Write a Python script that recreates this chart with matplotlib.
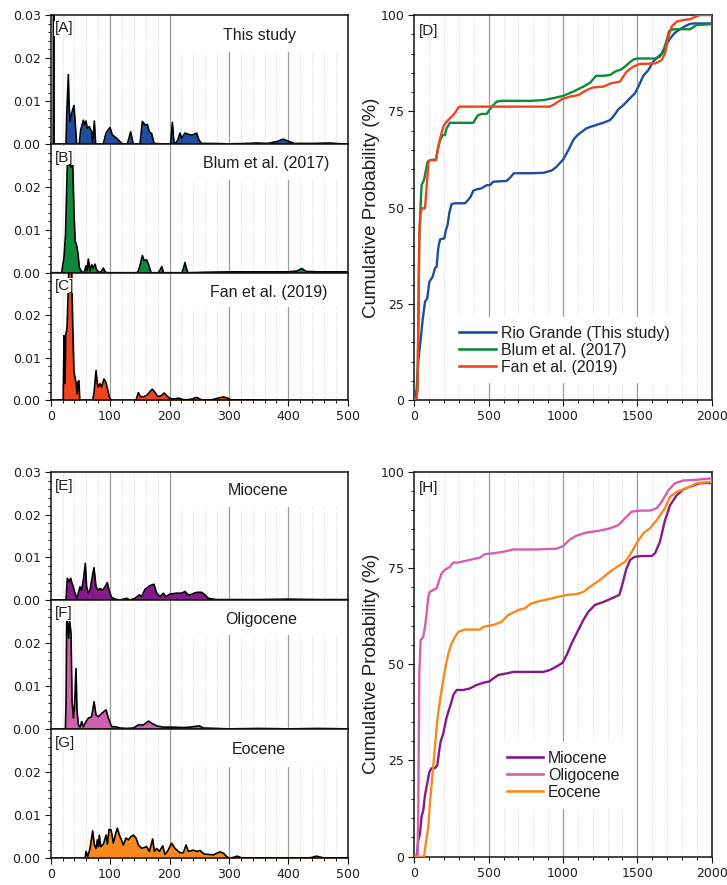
import matplotlib
matplotlib.use("Agg")
import matplotlib.pyplot as plt
from matplotlib.patches import Rectangle
from matplotlib.lines import Line2D
from matplotlib.ticker import MultipleLocator, FixedLocator, FormatStrFormatter

# ---------------- detrital zircon age spectra (Ma, probability density) ----------------
this_study_age = [0, 4.3, 4.9, 5.5, 8, 24, 25.8, 27, 29.7, 31, 32.5, 35, 37.6, 39.2, 41.5, 43.7,
                  48.2, 50.5, 55, 57, 59.4, 61.7, 65, 69, 70.7, 73.5, 75.7, 88.6, 93, 99.8, 103.7,
                  111, 119.5, 129, 134.6, 139, 150.3, 154.3, 158.8, 162.7, 166, 170, 174, 200, 202,
                  204.8, 207.6, 211, 214, 217.7, 220.5, 226, 234.5, 240, 245.7, 249.6, 254, 270,
                  300, 330, 347, 365, 380, 391.7, 400, 410, 440, 470, 490, 500]
this_study_pdf = [0, 0, 0.045, 0, 0, 0, 0.0002, 0.007, 0.0162, 0.009, 0.0053, 0.0070, 0.0083, 0.009,
                  0.0045, 0, 0.0002, 0.0033, 0.0056, 0.0045, 0.0054, 0.0037, 0.0041, 0.0029, 0.0003,
                  0.0054, 0, 0.0001, 0.0026, 0.0039, 0.0022, 0.0014, 0.0002, 0, 0.0029, 0, 0,
                  0.0053, 0.0045, 0.0046, 0.0029, 0.0025, 0.0002, 0, 0.0002, 0.0051, 0.0002,
                  0.0004, 0.0010, 0.0026, 0.0014, 0.0026, 0.0022, 0.0022, 0.0026, 0.0010, 0.0002,
                  0.0002, 0.0001, 0.0002, 0.0003, 0.0002, 0.0006, 0.0012, 0.0007, 0.0002, 0.0002,
                  0.0003, 0.0001, 0.0001]

blum_age = [0, 18.5, 22.4, 25, 27, 28, 31, 33, 35, 37, 39.2, 41, 43.7, 46, 48.2, 51, 55, 57, 59.4,
            61, 63.4, 66, 69, 71.5, 74.6, 77, 81, 85, 88.6, 91, 94, 145, 147.5, 151, 154.3, 157.6,
            161.6, 165, 169, 181, 184, 187, 190, 221, 223.5, 226, 228.5, 231, 260, 300, 350, 400,
            415, 422.6, 430, 450, 500]
blum_pdf = [0, 0, 0.0036, 0.009, 0.020, 0.0252, 0.0254, 0.0250, 0.0246, 0.0254, 0.0145, 0.0075,
            0.0063, 0.0044, 0.0012, 0.0004, 0, 0.0003, 0.0016, 0.0004, 0.0032, 0.0004, 0.0019,
            0.0010, 0.0020, 0.0008, 0.0001, 0.0002, 0.0011, 0.0004, 0, 0, 0.0004, 0.0020, 0.0040,
            0.0028, 0.0030, 0.0018, 0, 0, 0.0006, 0.0014, 0, 0, 0.0010, 0.0024, 0.0010, 0, 0.0001,
            0.0002, 0.0002, 0.0002, 0.0004, 0.0010, 0.0003, 0.0002, 0.0002]

fan_age = [0, 21, 22.5, 24, 25.5, 27.5, 29.5, 31, 35, 37, 39.2, 42.6, 44.5, 46, 47.5, 49, 70.7, 73,
           76.3, 78.5, 80, 83, 85.5, 89.7, 93, 96, 98.7, 101.5, 143.6, 147.5, 151, 156, 162, 167,
           171, 176, 180, 185, 191.3, 196, 201, 207, 215, 222, 229, 238, 245.7, 254, 270, 282,
           290.6, 298, 304, 330, 400, 500]
fan_pdf = [0, 0, 0.0152, 0.0040, 0.0155, 0.0170, 0.0260, 0.0340, 0.0330, 0.0180, 0.0066, 0.0043,
           0.0015, 0.0043, 0.0046, 0, 0, 0.0018, 0.0070, 0.0040, 0.0031, 0.0039, 0.0031, 0.0050,
           0.0042, 0.0025, 0.0008, 0, 0, 0.0018, 0.0009, 0.0008, 0.0012, 0.0020, 0.0026, 0.0018,
           0.0009, 0.0010, 0.0017, 0.0010, 0.0004, 0.0003, 0.0005, 0.0002, 0.0001, 0.0003, 0.0007,
           0.0001, 0.0001, 0.0005, 0.0008, 0.0005, 0.0001, 0.0001, 0, 0]

miocene_age = [0, 24, 25.8, 28, 30.8, 33.6, 35.9, 38.1, 40.9, 43.7, 46.5, 49.3, 52.1, 55, 58.3,
               60.5, 63.4, 66.2, 69, 72.9, 76.3, 80.2, 83, 87.5, 91.4, 95.3, 97.6, 99.8, 102.6,
               108.2, 116.7, 128, 133.5, 142, 149.2, 153.1, 158.8, 167.2, 173.9, 178.4, 184,
               189.6, 194.1, 200.9, 212.1, 220.5, 226.1, 230.6, 234.5, 245.7, 254.2, 259.8, 265.4,
               273.8, 279.4, 300, 350, 400, 450, 500]
miocene_pdf = [0, 0, 0.0002, 0.0051, 0.0043, 0.0051, 0.0039, 0.0031, 0.0016, 0.0004, 0.0016,
               0.0031, 0.0023, 0.0047, 0.0086, 0.0031, 0.0016, 0.0023, 0.0047, 0.0076, 0.0031,
               0.0023, 0.0027, 0.0023, 0.0031, 0.0041, 0.0027, 0.0016, 0.0006, 0.0002, 0, 0.0004,
               0, 0.0004, 0.0012, 0.0008, 0.0025, 0.0034, 0.0037, 0.0016, 0.0008, 0.0016, 0.0008,
               0.0014, 0.0016, 0.0016, 0.0020, 0.0013, 0.0012, 0.0018, 0.0018, 0.0012, 0.0004,
               0.0002, 0.0001, 0.0001, 0.0001, 0.0002, 0.0001, 0.0001]

oligocene_age = [0, 24.7, 25.8, 26.9, 28.6, 30.3, 32, 34.2, 35.9, 38.2, 40.4, 42.6, 44.3, 46.6,
                 49.4, 52.2, 55, 59.5, 63.4, 69, 73, 76.3, 80.3, 85.9, 93.2, 97.1, 102.7, 108.3,
                 116.7, 128, 139.2, 147.6, 156, 164.4, 170, 178.5, 189.7, 206.5, 223.4, 234.6,
                 250.3, 257, 279.5, 300, 350, 400, 450, 500]
oligocene_pdf = [0, 0, 0.0060, 0.0250, 0.0250, 0.0211, 0.0250, 0.0223, 0.0068, 0.0026, 0.0060,
                 0.0141, 0.0045, 0.0010, 0.0005, 0.0018, 0.0006, 0.0018, 0.0026, 0.0029, 0.0064,
                 0.0033, 0.0029, 0.0037, 0.0045, 0.0026, 0.0006, 0.0006, 0.0003, 0.0002, 0.0003,
                 0.0010, 0.0010, 0.0019, 0.0014, 0.0008, 0.0005, 0.0005, 0.0004, 0.0005, 0.0008,
                 0.0003, 0.0002, 0.0001, 0.0002, 0.0001, 0.0002, 0.0001]

eocene_age = [0, 57.8, 59.5, 62.3, 66.2, 70.7, 73.5, 76.3, 78.6, 80.3, 81.9, 84.2, 88.7, 93.2,
              95.4, 98.2, 101.6, 103.8, 105.5, 109.4, 112.2, 115.6, 119, 122.3, 126.8, 130.8,
              134.7, 139.2, 143.7, 147.6, 153.2, 161.6, 166.1, 171.7, 174.5, 178.5, 183, 188.6,
              192.5, 196.4, 203.7, 209.3, 217.7, 223.4, 227.8, 231.8, 240.2, 245.8, 251.4, 258.2,
              265.4, 273.9, 285.1, 290.7, 296.3, 300.8, 307.5, 314.3, 321.6, 400, 436.6, 447.8,
              459, 500]
eocene_pdf = [0, 0, 0.0016, 0.0004, 0.0023, 0.0064, 0.0031, 0.0023, 0.0043, 0.0027, 0.0054, 0.0027,
              0.0033, 0.0054, 0.0033, 0.0067, 0.0066, 0.0050, 0.0035, 0.0058, 0.0070, 0.0054,
              0.0043, 0.0031, 0.0047, 0.0043, 0.0050, 0.0054, 0.0047, 0.0031, 0.0023, 0.0027,
              0.0016, 0.0045, 0.0016, 0.0023, 0.0016, 0.0029, 0.0009, 0.0016, 0.0035, 0.0023,
              0.0013, 0.0013, 0.0031, 0.0016, 0.0019, 0.0016, 0.0018, 0.0010, 0.0009, 0.0008,
              0.0015, 0.0012, 0.0004, 0, 0.0002, 0.0005, 0.0001, 0.0001, 0.0001, 0.0005, 0.0001,
              0.0001]

# ---------------- cumulative probability curves (Ma, %) ----------------
rio_cdf_age = [0, 15.7, 27, 42.6, 56, 72, 87, 101, 123, 139, 150, 161, 173, 202, 213, 224, 235,
               251, 274, 341, 363, 379, 397, 419, 453, 487, 509, 531, 621, 643, 670, 778, 868, 924,
               957, 1002, 1036, 1069, 1092, 1114, 1159, 1204, 1271, 1316, 1338, 1372, 1406, 1451,
               1484, 1507, 1540, 1574, 1607, 1641, 1664, 1686, 1720, 1753, 1787, 1821, 1854, 1877,
               2000]
rio_cdf_pct = [0, 2.6, 10.4, 15.6, 20.8, 25.5, 26.4, 30.7, 32.0, 34.2, 34.6, 39.4, 41.7, 42.0, 44.2,
               45.5, 48.5, 50.9, 51.1, 51.1, 52.0, 52.8, 54.4, 54.7, 55.0, 55.8, 55.8, 56.7, 56.9,
               57.7, 58.9, 58.9, 59.0, 59.6, 60.6, 62.5, 64.9, 67.5, 68.6, 69.3, 70.6, 71.2, 72.0,
               72.7, 73.6, 75.5, 76.6, 78.4, 79.7, 81.4, 84.2, 85.7, 87.9, 89.2, 90.0, 91.8, 93.9,
               95.4, 96.3, 97.1, 97.7, 97.8, 97.8]

blum_cdf_age = [0, 15.7, 22, 29, 33.6, 38, 49, 65, 78, 90, 105, 146, 157, 173, 191, 206, 217, 240,
                397, 415, 430, 453, 487, 504, 527, 554, 587, 778, 868, 935, 1002, 1069, 1137, 1182,
                1222, 1271, 1316, 1350, 1394, 1428, 1468, 1495, 1619, 1652, 1675, 1697, 1715, 1742,
                1854, 1899, 2000]
blum_cdf_pct = [0, 0.4, 4.3, 26.0, 41.6, 46.8, 55.8, 57.1, 59.7, 61.9, 62.3, 62.5, 64.9, 67.5,
                68.8, 68.8, 70.6, 72.0, 72.0, 73.2, 74.0, 74.3, 74.3, 75.3, 76.4, 77.5, 77.7, 77.7,
                77.9, 78.4, 79.0, 80.1, 81.4, 82.4, 84.2, 84.2, 84.4, 85.3, 85.9, 87.0, 88.3, 88.7,
                88.7, 89.2, 90.5, 93.5, 95.9, 96.3, 96.3, 97.4, 97.6]

fan_cdf_age = [0, 15.7, 22, 33.6, 42.6, 51.6, 72, 83, 94, 105, 146, 161, 177, 195, 217, 240, 262,
               280, 296, 307, 912, 946, 991, 1047, 1103, 1159, 1204, 1271, 1327, 1383, 1428, 1473,
               1518, 1619, 1664, 1686, 1709, 1731, 1765, 1809, 1854, 1899, 1922, 2000]
fan_cdf_pct = [0, 0.9, 2.6, 43.3, 48.5, 49.8, 49.8, 55.4, 61.5, 62.3, 62.3, 65.8, 68.4, 71.0, 72.3,
               73.2, 74.0, 74.9, 76.0, 76.2, 76.2, 76.9, 78.1, 78.8, 79.2, 80.5, 81.2, 81.4, 82.3,
               82.7, 85.3, 86.6, 87.3, 87.4, 88.3, 90.0, 94.4, 97.0, 98.3, 98.7, 98.9, 99.7, 100,
               100]

miocene_cdf_age = [0, 15.7, 27, 38, 49, 60.5, 72, 87, 101, 117, 139, 155, 168, 177, 195, 213, 229,
                   247, 262, 285, 330, 374, 419, 464, 504, 531, 565, 621, 666, 868, 912, 957, 998,
                   1025, 1058, 1103, 1137, 1170, 1215, 1260, 1305, 1350, 1379, 1401, 1424, 1451,
                   1484, 1529, 1596, 1619, 1652, 1686, 1720, 1765, 1809, 1854, 1922, 2000]
miocene_cdf_pct = [0, 0, 4.3, 6.0, 10.4, 12.1, 16.0, 19.0, 22.0, 23.0, 23.0, 23.8, 27.7, 29.9,
                   32.0, 35.5, 37.7, 39.8, 42.0, 43.3, 43.3, 43.7, 44.6, 45.2, 45.5, 46.3, 47.2,
                   47.6, 48.0, 48.0, 48.5, 49.4, 50.4, 52.4, 55.4, 58.9, 61.5, 63.6, 65.4, 66.0,
                   66.7, 67.5, 68.0, 71.0, 74.5, 77.1, 77.9, 78.1, 78.1, 78.8, 81.8, 87.4, 91.3,
                   93.9, 95.4, 96.1, 97.0, 97.1]

oligocene_cdf_age = [0, 22, 27, 33.6, 42.6, 60.5, 72, 83, 94, 105, 128, 150, 168, 184, 206, 240,
                     262, 296, 374, 442, 475, 531, 599, 666, 823, 957, 1002, 1047, 1092, 1159,
                     1249, 1316, 1372, 1417, 1462, 1518, 1585, 1630, 1664, 1709, 1753, 1809, 1899,
                     2000]
oligocene_cdf_pct = [0, 0, 13.0, 47.6, 56.3, 57.1, 59.7, 63.2, 67.5, 68.8, 69.3, 69.7, 71.9, 73.6,
                     74.5, 75.3, 76.4, 76.4, 77.1, 77.7, 78.6, 78.8, 79.2, 79.8, 79.8, 80.0, 80.7,
                     82.4, 83.4, 84.2, 84.7, 85.3, 86.1, 87.9, 89.6, 89.9, 89.9, 90.5, 92.2, 95.2,
                     97.0, 97.7, 97.9, 98.3]

eocene_cdf_age = [0, 65, 78, 94, 105, 123, 139, 155, 173, 191, 206, 229, 251, 274, 296, 341, 442,
                  464, 531, 587, 632, 677, 700, 744, 778, 823, 890, 957, 1025, 1092, 1137, 1182,
                  1249, 1316, 1372, 1417, 1451, 1495, 1540, 1585, 1630, 1686, 1720, 1765, 1832,
                  1899, 2000]
eocene_cdf_pct = [0, 0, 3.5, 7.8, 13.9, 21.6, 28.6, 35.5, 40.7, 45.0, 48.5, 52.8, 55.4, 57.1,
                  58.4, 59.0, 59.0, 59.7, 60.2, 61.0, 62.8, 63.6, 64.1, 64.5, 65.6, 66.2, 66.8,
                  67.4, 68.0, 68.2, 68.8, 70.1, 71.9, 74.0, 75.5, 76.6, 78.4, 81.4, 84.0, 85.3,
                  87.4, 90.5, 93.5, 94.8, 95.7, 97.0, 97.4]

# ---------------- styling ----------------
plt.rcParams["font.family"] = ["Liberation Sans", "DejaVu Sans"]
TEXT = "#1e1e1e"
C_BLUE, C_GREEN, C_RED = "#1f4e9e", "#0d8a3b", "#f0441f"
C_MIO, C_OLI, C_EOC = "#86198a", "#d35fae", "#f7891f"

W, H = 727, 885
fig = plt.figure(figsize=(W / 100, H / 100), dpi=100)


def axes_px(left, top, right, bottom):
    return fig.add_axes([left / W, 1 - bottom / H, (right - left) / W, (bottom - top) / H])


def style_axes(ax):
    for s in ax.spines.values():
        s.set_linewidth(1.1)
        s.set_color("#111111")
    ax.tick_params(which="major", direction="out", length=4.3, width=0.8, colors="#111111",
                   labelsize=9, labelcolor=TEXT, pad=3, labelfontfamily="DejaVu Sans")
    ax.tick_params(which="minor", direction="out", length=2.2, width=0.7, colors="#111111")
    ax.tick_params(top=False, right=False, which="both")


def kde_panel(ax, ages, pdf, color, tag, title, title_x, title_dy, box_h, top_label, show_x):
    ax.set_xlim(0, 500)
    ax.set_ylim(0, 0.03)
    for x in range(20, 500, 20):
        if x % 100:
            ax.axvline(x, color="#c9c9c9", lw=0.6, ls=(0, (1, 2)), zorder=0.3)
        else:
            ax.axvline(x, color="#9c9c9c", lw=0.9, zorder=0.4)
    ax.add_patch(Rectangle((0.44, 1 - box_h), 0.56, box_h, transform=ax.transAxes,
                           facecolor="white", edgecolor="none", zorder=1))
    ax.fill_between(ages, pdf, 0, color=color, lw=0, zorder=2)
    ax.plot(ages, pdf, color="black", lw=1.2, zorder=3, solid_joinstyle="round")
    style_axes(ax)
    ax.xaxis.set_major_locator(MultipleLocator(100))
    ax.xaxis.set_minor_locator(MultipleLocator(20))
    yt = [0.0, 0.01, 0.02, 0.03] if top_label else [0.0, 0.01, 0.02]
    ax.yaxis.set_major_locator(FixedLocator(yt))
    ax.yaxis.set_minor_locator(MultipleLocator(0.002))
    ax.yaxis.set_major_formatter(FormatStrFormatter("%.2f"))
    if not show_x:
        ax.tick_params(axis="x", which="both", bottom=False, labelbottom=False)
    ax.annotate(tag, xy=(0, 1), xycoords="axes fraction", xytext=(3.0, -4.5),
                textcoords="offset points", ha="left", va="top", fontsize=11, color=TEXT,
                zorder=6, bbox=dict(facecolor="white", edgecolor="none", pad=0.3))
    ax.annotate(title, xy=(title_x, 1), xycoords="axes fraction", xytext=(0, -title_dy),
                textcoords="offset points", ha="center", va="center", fontsize=11.5,
                color=TEXT, zorder=6)


def cdf_panel(ax, series, tag, legend_xy):
    ax.set_xlim(0, 2000)
    ax.set_ylim(0, 100)
    for x in range(100, 2000, 100):
        if x % 500:
            ax.axvline(x, color="#c9c9c9", lw=0.6, ls=(0, (1, 2)), zorder=0.3)
        else:
            ax.axvline(x, color="#9c9c9c", lw=0.9, zorder=0.4)
    handles = []
    for ages, pct, color, name in series:
        ax.plot(ages, pct, color=color, lw=1.7, zorder=3, solid_joinstyle="round")
        handles.append(Line2D([], [], color=color, lw=1.9, label=name))
    style_axes(ax)
    ax.xaxis.set_major_locator(MultipleLocator(500))
    ax.xaxis.set_minor_locator(MultipleLocator(100))
    ax.yaxis.set_major_locator(MultipleLocator(25))
    ax.yaxis.set_minor_locator(MultipleLocator(5))
    leg = ax.legend(handles=handles, loc="upper left", bbox_to_anchor=legend_xy,
                    frameon=True, framealpha=1, facecolor="white", edgecolor="none",
                    fancybox=False, prop={"family": "Liberation Sans", "size": 11.4},
                    handlelength=2.3, handletextpad=0.3, labelspacing=0.12, borderpad=0.56,
                    borderaxespad=0)
    leg.set_zorder(5)
    for t in leg.get_texts():
        t.set_color(TEXT)
    ax.annotate(tag, xy=(0, 1), xycoords="axes fraction", xytext=(3.0, -6.5),
                textcoords="offset points", ha="left", va="top", fontsize=11, color=TEXT,
                zorder=6)


# left column, upper block
L, R = 50.7, 347.7
axA = axes_px(L, 15.0, R, 144.3)
axB = axes_px(L, 144.3, R, 272.7)
axC = axes_px(L, 272.7, R, 400.3)
kde_panel(axA, this_study_age, this_study_pdf, C_BLUE, "[A]", "This study", 0.703, 15.0, 0.29, True, False)
kde_panel(axB, blum_age, blum_pdf, C_GREEN, "[B]", "Blum et al. (2017)", 0.726, 13.7, 0.28, False, False)
kde_panel(axC, fan_age, fan_pdf, C_RED, "[C]", "Fan et al. (2019)", 0.733, 14.0, 0.27, False, True)

# left column, lower block
axE = axes_px(L, 472.3, R, 600.0)
axF = axes_px(L, 600.0, R, 729.3)
axG = axes_px(L, 729.3, R, 858.3)
kde_panel(axE, miocene_age, miocene_pdf, C_MIO, "[E]", "Miocene", 0.698, 12.8, 0.27, True, False)
kde_panel(axF, oligocene_age, oligocene_pdf, C_OLI, "[F]", "Oligocene", 0.71, 13.7, 0.27, False, False)
kde_panel(axG, eocene_age, eocene_pdf, C_EOC, "[G]", "Eocene", 0.70, 14.4, 0.29, False, True)

# right column: cumulative probability plots
RL, RR = 414.3, 711.7
axD = axes_px(RL, 15.0, RR, 400.0)
cdf_panel(axD, [(rio_cdf_age, rio_cdf_pct, C_BLUE, "Rio Grande (This study)"),
                (blum_cdf_age, blum_cdf_pct, C_GREEN, "Blum et al. (2017)"),
                (fan_cdf_age, fan_cdf_pct, C_RED, "Fan et al. (2019)")],
          "[D]", (0.122, 0.216))
axH = axes_px(RL, 471.7, RR, 856.7)
cdf_panel(axH, [(miocene_cdf_age, miocene_cdf_pct, C_MIO, "Miocene"),
                (oligocene_cdf_age, oligocene_cdf_pct, C_OLI, "Oligocene"),
                (eocene_cdf_age, eocene_cdf_pct, C_EOC, "Eocene")],
          "[H]", (0.282, 0.298))

for yc in ((15.0 + 400.0) / 2, (471.7 + 856.7) / 2):
    fig.text(371.7 / W, 1 - yc / H, "Cumulative Probability (%)", rotation=90,
             ha="center", va="center", fontsize=13.5, color=TEXT)

fig.savefig("out.png", dpi=100)
